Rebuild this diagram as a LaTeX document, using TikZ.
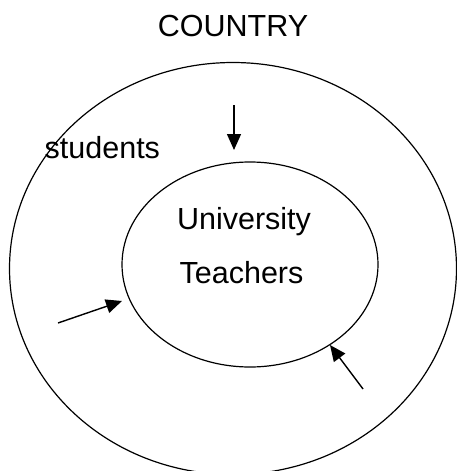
\documentclass[tikz,border=0pt]{standalone}
\usepackage{fontspec}
\setmainfont{Liberation Sans}
\usetikzlibrary{shapes.geometric, arrows.meta}

\begin{document}
\begin{tikzpicture}[x=1pt,y=-1pt,
  ring/.style={draw=black, ellipse, line width=1.2pt, inner sep=0pt, outer sep=0pt},
  label/.style={inner sep=0pt, font=\fontsize{30.5}{34}\selectfont},
  pointer/.style={line width=1.4pt, -{Triangle[length=16pt,width=14pt]}}]
\useasboundingbox (0,0) rectangle (457,471);
\node[label, anchor=base] (title) at (233,36) {COUNTRY};
\node[ring, minimum width=447pt, minimum height=412pt] (country) at (233,268.5) {};
\node[ring, minimum width=256pt, minimum height=205pt] (univ) at (250,264.5) {};
\node[label, anchor=base west] (students) at (44.5,158.5) {students};
\node[label, anchor=base] (university) at (244,229) {University};
\node[label, anchor=base] (teachers) at (241.5,283) {Teachers};
\coordinate (topfrom) at (234,105);
\coordinate (topto) at (234,150);
\coordinate (leftfrom) at (58,323);
\coordinate (leftto) at (122,301);
\coordinate (rightfrom) at (363,389);
\coordinate (rightto) at (330,345);
\draw[pointer] (topfrom) -- (topto);
\draw[pointer] (leftfrom) -- (leftto);
\draw[pointer] (rightfrom) -- (rightto);
\end{tikzpicture}
\end{document}
